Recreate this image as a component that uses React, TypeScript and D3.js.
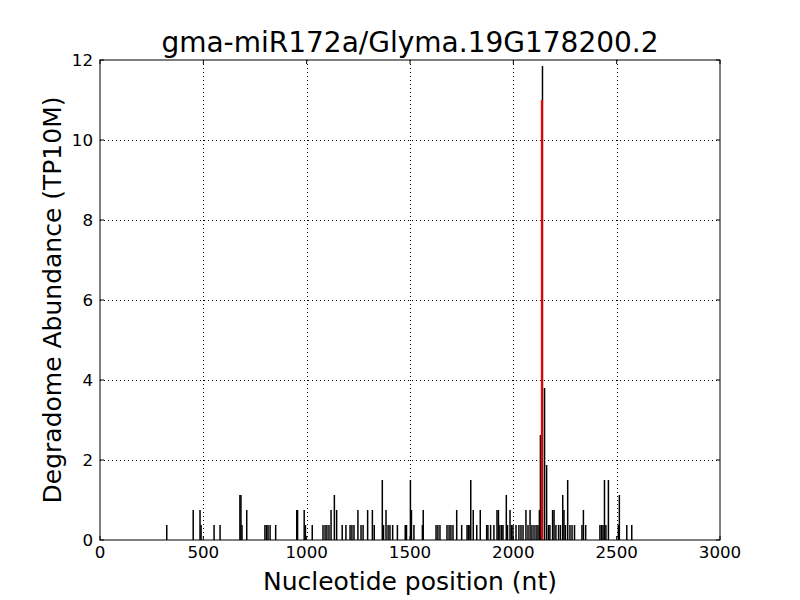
import React, { useRef, useEffect } from "react";
import * as d3 from "d3";

const title = "gma-miR172a/Glyma.19G178200.2";

// nucleotide positions of degradome tags and their abundance (TP10M)
const positions = [
  323, 451, 484, 489, 552, 581, 677, 682, 687, 710, 798, 806, 813, 823, 850,
  952, 956, 988, 994, 1027, 1079, 1089, 1098, 1108, 1118, 1134, 1145, 1172,
  1190, 1210, 1219, 1229, 1248, 1263, 1273, 1295, 1318, 1327, 1366, 1372, 1384,
  1394, 1403, 1416, 1439, 1477, 1483, 1502, 1507, 1519, 1560, 1564, 1626, 1635,
  1645, 1679, 1689, 1698, 1708, 1726, 1750, 1776, 1783, 1790, 1794, 1806, 1823,
  1840, 1871, 1877, 1890, 1906, 1921, 1928, 1935, 1944, 1950, 1966, 1972, 1984,
  1991, 1998, 2013, 2027, 2037, 2047, 2061, 2071, 2081, 2090, 2100, 2110, 2119,
  2126, 2131, 2141, 2151, 2161, 2170, 2177, 2190, 2197, 2206, 2219, 2228, 2239,
  2245, 2252, 2263, 2274, 2284, 2296, 2332, 2339, 2350, 2419, 2427, 2434, 2441,
  2448, 2460, 2508, 2513, 2549, 2573
];
const abundance = [
  0.375, 0.75, 0.75, 0.375, 0.375, 0.375, 1.125, 1.125, 0.375, 0.75, 0.375,
  0.375, 0.375, 0.375, 0.375, 0.75, 0.75, 0.75, 0.375, 0.375, 0.375, 0.375,
  0.375, 0.375, 0.75, 1.125, 0.75, 0.375, 0.375, 0.375, 0.375, 0.375, 0.75,
  0.375, 0.375, 0.75, 0.75, 0.375, 1.5, 0.375, 0.75, 0.375, 0.375, 0.375, 0.375,
  0.375, 0.375, 1.5, 0.75, 0.375, 0.375, 0.75, 0.375, 0.375, 0.375, 0.375,
  0.375, 0.375, 0.375, 0.75, 0.375, 0.375, 0.375, 0.375, 1.5, 0.75, 0.375, 0.75,
  0.375, 0.375, 0.375, 0.375, 0.75, 0.75, 0.375, 0.375, 0.375, 1.125, 0.375,
  0.75, 0.375, 0.375, 0.375, 0.375, 0.375, 0.375, 0.75, 0.375, 0.75, 0.375,
  0.375, 0.375, 0.375, 0.75, 2.625, 11.85, 3.8, 1.875, 0.375, 0.375, 0.75, 0.75,
  0.375, 0.375, 0.375, 1.125, 0.75, 0.375, 1.5, 0.375, 0.375, 0.375, 0.375,
  0.75, 0.375, 0.375, 0.375, 0.375, 1.5, 0.375, 1.5, 0.375, 1.125, 0.375, 0.375
];

// predicted cleavage site
const targetPos = 2138;
const targetVal = 11.0;

const xTicks = [0, 500, 1000, 1500, 2000, 2500, 3000];
const yTicks = [0, 2, 4, 6, 8, 10, 12];

const margin = { top: 60, right: 80, bottom: 60, left: 100 };
const W = 800;
const H = 600;
const width = W - margin.left - margin.right;
const height = H - margin.top - margin.bottom;
const font = "DejaVu Sans, sans-serif";

const App = () => {
  const gRef = useRef<SVGGElement>(null);

  useEffect(() => {
    if (!gRef.current) return;
    const g = d3.select(gRef.current);
    g.selectAll("*").remove();

    const x = d3.scaleLinear().domain([0, 3000]).range([0, width]);
    const y = d3.scaleLinear().domain([0, 12]).range([height, 0]);

    // grid
    g.selectAll(".vgrid")
      .data(xTicks.slice(1, -1))
      .enter()
      .append("line")
      .attr("x1", d => Math.round(x(d)) + 0.5)
      .attr("x2", d => Math.round(x(d)) + 0.5)
      .attr("y1", 0)
      .attr("y2", height)
      .attr("stroke", "black")
      .attr("stroke-width", 1)
      .attr("stroke-dasharray", "1,3");
    g.selectAll(".hgrid")
      .data(yTicks.slice(1, -1))
      .enter()
      .append("line")
      .attr("x1", 0)
      .attr("x2", width)
      .attr("y1", d => Math.round(y(d)) + 0.5)
      .attr("y2", d => Math.round(y(d)) + 0.5)
      .attr("stroke", "black")
      .attr("stroke-width", 1)
      .attr("stroke-dasharray", "1,3");

    // bars
    const data = positions.map((p, i) => ({ p, v: abundance[i] }));
    g.selectAll(".bar")
      .data(data)
      .enter()
      .append("line")
      .attr("x1", d => x(d.p))
      .attr("x2", d => x(d.p))
      .attr("y1", y(0))
      .attr("y2", d => y(d.v))
      .attr("stroke", "black")
      .attr("stroke-width", 1.5);

    // target line
    g.append("line")
      .attr("x1", x(targetPos))
      .attr("x2", x(targetPos))
      .attr("y1", y(0))
      .attr("y2", y(targetVal))
      .attr("stroke", "#ff0000")
      .attr("stroke-width", 2);

    // frame
    g.append("rect")
      .attr("x", 0)
      .attr("y", 0)
      .attr("width", width)
      .attr("height", height)
      .attr("fill", "none")
      .attr("stroke", "black")
      .attr("stroke-width", 1);

    // inward ticks on all sides
    const tk = 4;
    xTicks.forEach(t => {
      const px = x(t);
      g.append("line").attr("x1", px).attr("x2", px).attr("y1", height).attr("y2", height - tk).attr("stroke", "black");
      g.append("line").attr("x1", px).attr("x2", px).attr("y1", 0).attr("y2", tk).attr("stroke", "black");
      g.append("text")
        .attr("x", px)
        .attr("y", height + 18)
        .attr("text-anchor", "middle")
        .attr("font-family", font)
        .attr("font-size", 16.7)
        .text(t);
    });
    yTicks.forEach(t => {
      const py = y(t);
      g.append("line").attr("x1", 0).attr("x2", tk).attr("y1", py).attr("y2", py).attr("stroke", "black");
      g.append("line").attr("x1", width).attr("x2", width - tk).attr("y1", py).attr("y2", py).attr("stroke", "black");
      g.append("text")
        .attr("x", -7)
        .attr("y", py + 6)
        .attr("text-anchor", "end")
        .attr("font-family", font)
        .attr("font-size", 16.7)
        .text(t);
    });
  }, []);

  return (
    <svg
      width={W}
      height={H}
      style={{ position: "absolute", left: 0, top: 0, background: "white" }}
    >
      <rect width={W} height={H} fill="white" />
      <g ref={gRef} transform={`translate(${margin.left},${margin.top})`} />
      <text
        x={margin.left + width / 2}
        y={52}
        textAnchor="middle"
        fontFamily={font}
        fontSize={28}
      >
        {title}
      </text>
      <text
        x={margin.left + width / 2}
        y={590}
        textAnchor="middle"
        fontFamily={font}
        fontSize={25}
      >
        Nucleotide position (nt)
      </text>
      <text
        transform={`translate(61,${margin.top + height / 2}) rotate(-90)`}
        textAnchor="middle"
        fontFamily={font}
        fontSize={25}
      >
        Degradome Abundance (TP10M)
      </text>
    </svg>
  );
};

App.displayName = "App";
export default App;
